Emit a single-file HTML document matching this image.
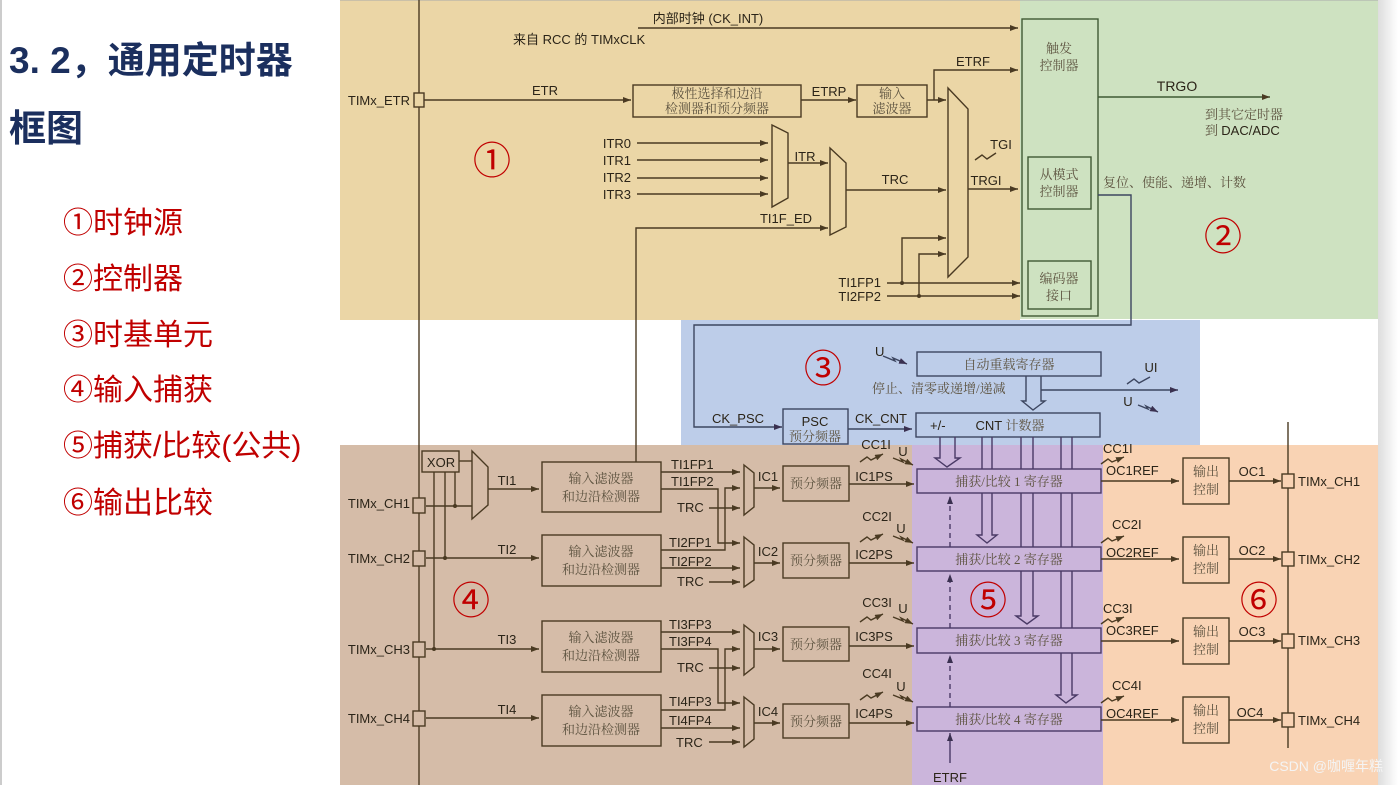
<!DOCTYPE html>
<html><head><meta charset="utf-8"><style>
html,body{margin:0;padding:0;background:#fff;}
body{width:1398px;height:785px;overflow:hidden;position:relative;font-family:"Liberation Sans","Noto Sans CJK SC",sans-serif;}
.t{position:absolute;color:#1b2f5e;font-weight:bold;font-size:37px;font-family:"Liberation Sans","Noto Sans CJK SC",sans-serif;left:9px;white-space:pre;}
.l{position:absolute;color:#c00000;font-size:30px;left:63px;font-family:"Liberation Sans","Noto Sans CJK SC",sans-serif;white-space:pre;}
svg{position:absolute;left:0;top:0;}
svg text{font-family:"Liberation Sans","Noto Sans CJK SC",sans-serif;font-size:13px;fill:#2b2418;}
svg .c{font-family:"Liberation Serif","Noto Serif CJK SC",serif;fill:#5d5340;}
svg .n{font-family:"Noto Sans CJK SC",sans-serif;font-size:38px;fill:#c00000;}
</style></head><body>
<div style="position:absolute;left:0;top:0;width:2px;height:785px;background:#ccc"></div>
<div class="t" style="top:30px">3. 2，通用定时器</div>
<div class="t" style="top:98px">框图</div>
<div class="l" style="top:198px">①时钟源</div>
<div class="l" style="top:254px">②控制器</div>
<div class="l" style="top:310px">③时基单元</div>
<div class="l" style="top:365px">④输入捕获</div>
<div class="l" style="top:421px">⑤捕获/比较(公共)</div>
<div class="l" style="top:478px">⑥输出比较</div>
<svg width="1398" height="785" viewBox="0 0 1398 785">
<defs>
<marker id="a" markerWidth="8" markerHeight="6" refX="8" refY="3" orient="auto" markerUnits="userSpaceOnUse"><path d="M0,0 L8,3 L0,6z" fill="#4a3a22"/></marker>
<marker id="b" markerWidth="8" markerHeight="6" refX="8" refY="3" orient="auto" markerUnits="userSpaceOnUse"><path d="M0,0 L8,3 L0,6z" fill="#3a3050"/></marker>
<linearGradient id="sh" x1="0" x2="1"><stop offset="0" stop-color="#ddd"/><stop offset="1" stop-color="#fff"/></linearGradient>
</defs>
<rect x="1378" y="0" width="20" height="785" fill="url(#sh)"/>
<rect x="340" y="0" width="680" height="320" fill="#ebd6a6"/>
<rect x="1020" y="0" width="358" height="319" fill="#cee2c1"/>
<rect x="681" y="320" width="519" height="125" fill="#bdcde9"/>
<rect x="340" y="445" width="572" height="340" fill="#d5bca8"/>
<rect x="912" y="445" width="191" height="340" fill="#cbb5db"/>
<rect x="1103" y="445" width="275" height="340" fill="#f9d3b4"/>
<line x1="340" y1="0" x2="1378" y2="0" stroke="#aaa" stroke-width="1"/>
<g stroke="#4a3a22" stroke-width="1.4" fill="none">
<line x1="419" y1="0" x2="419" y2="785"/>
<line x1="638" y1="28" x2="1018" y2="28" marker-end="url(#a)"/>
<rect x="414" y="93" width="10" height="14" fill="#ebd6a6"/>
<line x1="424" y1="100" x2="631" y2="100" marker-end="url(#a)"/>
<rect x="633" y="85" width="168" height="32"/>
<line x1="801" y1="100" x2="856" y2="100" marker-end="url(#a)"/>
<rect x="857" y="85" width="70" height="32"/>
<line x1="927" y1="100" x2="946" y2="100" marker-end="url(#a)"/>
<polyline points="934,100 934,70 1018,70" marker-end="url(#a)"/>
<path d="M948,88 L968,109 L968,257 L948,277 Z" fill="#ebd6a6"/>
<line x1="637" y1="143" x2="768" y2="143" marker-end="url(#a)"/>
<line x1="637" y1="160" x2="768" y2="160" marker-end="url(#a)"/>
<line x1="637" y1="178" x2="768" y2="178" marker-end="url(#a)"/>
<line x1="637" y1="194" x2="768" y2="194" marker-end="url(#a)"/>
<path d="M772,125 L788,133 L788,198 L772,207 Z"/>
<line x1="788" y1="163" x2="828" y2="163" marker-end="url(#a)"/>
<path d="M830,148 L846,163 L846,227 L830,235 Z"/>
<line x1="846" y1="190" x2="946" y2="190" marker-end="url(#a)"/>
<polyline points="636,462 636,228 828,228" marker-end="url(#a)"/>
<line x1="968" y1="189" x2="1018" y2="189" marker-end="url(#a)"/>
<polyline points="975,160 982,155 987,159 996,153"/>
<line x1="887" y1="283" x2="1020" y2="283" marker-end="url(#a)"/>
<line x1="887" y1="296" x2="1020" y2="296" marker-end="url(#a)"/>
<polyline points="902,283 902,238 946,238" marker-end="url(#a)"/>
<polyline points="919,296 919,254 946,254" marker-end="url(#a)"/>
</g>
<circle cx="902" cy="283" r="2" fill="#4a3a22"/><circle cx="919" cy="296" r="2" fill="#4a3a22"/>
<g stroke="#3f5a34" stroke-width="1.4" fill="none">
<rect x="1022" y="19" width="76" height="297"/>
<rect x="1028" y="157" width="63" height="52"/>
<rect x="1028" y="261" width="63" height="48"/>
<line x1="1098" y1="97" x2="1270" y2="97" marker-end="url(#a)"/>
<polyline points="1098,195 1131,195 1131,325 694,325 694,427 782,427" stroke="#3d4660" marker-end="url(#b)"/>
</g>
<text x="1059" y="53" text-anchor="middle" class="c">触发</text>
<text x="1059" y="70" text-anchor="middle" class="c">控制器</text>
<text x="1059" y="179" text-anchor="middle" class="c">从模式</text>
<text x="1059" y="196" text-anchor="middle" class="c">控制器</text>
<text x="1059" y="283" text-anchor="middle" class="c">编码器</text>
<text x="1059" y="300" text-anchor="middle" class="c">接口</text>
<text x="1177" y="91" text-anchor="middle" style="font-size:14px">TRGO</text>
<text x="1205" y="119" class="c">到其它定时器</text>
<text x="1205" y="135" class="c">到 <tspan style="font-family:'Liberation Sans';fill:#2b2418">DAC/ADC</tspan></text>
<text x="1103" y="187" class="c">复位、使能、递增、计数</text>
<text x="1223" y="250" text-anchor="middle" class="n">②</text>
<text x="708" y="23" text-anchor="middle">内部时钟 (CK_INT)</text>
<text x="513" y="44">来自 RCC 的 TIMxCLK</text>
<text x="410" y="105" text-anchor="end">TIMx_ETR</text>
<text x="545" y="95" text-anchor="middle">ETR</text>
<text x="717" y="98" text-anchor="middle" class="c">极性选择和边沿</text>
<text x="717" y="113" text-anchor="middle" class="c">检测器和预分频器</text>
<text x="829" y="96" text-anchor="middle">ETRP</text>
<text x="892" y="98" text-anchor="middle" class="c">输入</text>
<text x="892" y="113" text-anchor="middle" class="c">滤波器</text>
<text x="973" y="66" text-anchor="middle">ETRF</text>
<text x="631" y="148" text-anchor="end">ITR0</text>
<text x="631" y="165" text-anchor="end">ITR1</text>
<text x="631" y="182" text-anchor="end">ITR2</text>
<text x="631" y="199" text-anchor="end">ITR3</text>
<text x="805" y="161" text-anchor="middle">ITR</text>
<text x="895" y="184" text-anchor="middle">TRC</text>
<text x="786" y="223" text-anchor="middle">TI1F_ED</text>
<text x="1001" y="149" text-anchor="middle">TGI</text>
<text x="986" y="185" text-anchor="middle">TRGI</text>
<text x="881" y="287" text-anchor="end">TI1FP1</text>
<text x="881" y="301" text-anchor="end">TI2FP2</text>
<text x="492" y="174" text-anchor="middle" class="n">①</text>
<g stroke="#3d4660" stroke-width="1.4" fill="none">
<rect x="783" y="409" width="65" height="35"/>
<line x1="848" y1="429" x2="912" y2="429" marker-end="url(#b)"/>
<rect x="917" y="352" width="184" height="24"/>
<rect x="916" y="413" width="184" height="24"/>
<path d="M1026,376 V401 H1022 L1033,410 L1045,401 H1041 V376"/>
<line x1="1041" y1="390" x2="1178" y2="390" marker-end="url(#b)"/>
<polyline points="883,356 895,361 893,358 907,364" marker-end="url(#b)"/>
<polyline points="1127,384 1134,379 1139,383 1150,377"/>
<polyline points="1138,405 1148,409 1146,406 1158,412" marker-end="url(#b)"/>
</g>
<text x="823" y="382" text-anchor="middle" class="n">③</text>
<text x="875" y="356">U</text>
<text x="1009" y="369" text-anchor="middle" class="c">自动重载寄存器</text>
<text x="872" y="393" class="c">停止、清零或递增/递减</text>
<text x="1151" y="372" text-anchor="middle">UI</text>
<text x="1128" y="406" text-anchor="middle">U</text>
<text x="738" y="423" text-anchor="middle">CK_PSC</text>
<text x="815" y="426" text-anchor="middle">PSC</text>
<text x="815" y="441" text-anchor="middle" class="c">预分频器</text>
<text x="881" y="423" text-anchor="middle">CK_CNT</text>
<text x="930" y="430">+/-</text>
<text x="1010" y="430" text-anchor="middle">CNT <tspan class="c">计数器</tspan></text>
<g stroke="#4a3a66" stroke-width="1.4" fill="none">
<path d="M940,437 V458 H935 L947,467 L960,458 H955 V437"/>
<path d="M982,437 V535 H977 L987,543 L997,535 H992 V437"/>
<path d="M1021,437 V616 H1016 L1027,624 L1038,616 H1033 V437"/>
<path d="M1061,437 V695 H1056 L1066,703 L1077,695 H1072 V437"/>
<rect x="917" y="469" width="184" height="24" fill="#cbb5db"/>
<rect x="917" y="547" width="184" height="24" fill="#cbb5db"/>
<rect x="917" y="628" width="184" height="25" fill="#cbb5db"/>
<rect x="917" y="707" width="184" height="24" fill="#cbb5db"/>
<line x1="950" y1="707" x2="950" y2="655" stroke-dasharray="5,4" marker-end="url(#b)"/>
<line x1="950" y1="628" x2="950" y2="574" stroke-dasharray="5,4" marker-end="url(#b)"/>
<line x1="950" y1="547" x2="950" y2="496" stroke-dasharray="5,4" marker-end="url(#b)"/>
<line x1="950" y1="763" x2="950" y2="733" marker-end="url(#b)"/>
</g>
<text x="1009" y="486" text-anchor="middle" class="c">捕获/比较 1 寄存器</text>
<text x="1009" y="564" text-anchor="middle" class="c">捕获/比较 2 寄存器</text>
<text x="1009" y="645" text-anchor="middle" class="c">捕获/比较 3 寄存器</text>
<text x="1009" y="724" text-anchor="middle" class="c">捕获/比较 4 寄存器</text>
<text x="950" y="782" text-anchor="middle">ETRF</text>
<text x="988" y="614" text-anchor="middle" class="n">⑤</text>
<g stroke="#4a3a22" stroke-width="1.4" fill="none">
<line x1="1288" y1="422" x2="1288" y2="748"/>
<line x1="1101" y1="481" x2="1179" y2="481" marker-end="url(#a)"/>
<line x1="1101" y1="559" x2="1179" y2="559" marker-end="url(#a)"/>
<line x1="1101" y1="641" x2="1179" y2="641" marker-end="url(#a)"/>
<line x1="1101" y1="720" x2="1179" y2="720" marker-end="url(#a)"/>
<rect x="1183" y="458" width="46" height="46"/>
<rect x="1183" y="537" width="46" height="46"/>
<rect x="1183" y="618" width="46" height="46"/>
<rect x="1183" y="697" width="46" height="46"/>
<line x1="1229" y1="481" x2="1281" y2="481" marker-end="url(#a)"/>
<line x1="1229" y1="559" x2="1281" y2="559" marker-end="url(#a)"/>
<line x1="1229" y1="641" x2="1281" y2="641" marker-end="url(#a)"/>
<line x1="1229" y1="720" x2="1281" y2="720" marker-end="url(#a)"/>
<rect x="1282" y="474" width="12" height="14" fill="#f9d3b4"/>
<rect x="1282" y="552" width="12" height="14" fill="#f9d3b4"/>
<rect x="1282" y="634" width="12" height="14" fill="#f9d3b4"/>
<rect x="1282" y="713" width="12" height="14" fill="#f9d3b4"/>
<polyline points="1101,464 1108,459 1112,462 1124,457" marker-end="url(#a)"/>
<polyline points="1101,543 1108,538 1112,541 1124,536" marker-end="url(#a)"/>
<polyline points="1101,624 1108,619 1112,622 1124,617" marker-end="url(#a)"/>
<polyline points="1101,703 1108,698 1112,701 1124,696" marker-end="url(#a)"/>
</g>
<text x="1103" y="453">CC1I</text><text x="1106" y="475">OC1REF</text>
<text x="1112" y="529">CC2I</text><text x="1106" y="557">OC2REF</text>
<text x="1103" y="613">CC3I</text><text x="1106" y="635">OC3REF</text>
<text x="1112" y="690">CC4I</text><text x="1106" y="718">OC4REF</text>
<text x="1206" y="476" text-anchor="middle" class="c">输出</text><text x="1206" y="494" text-anchor="middle" class="c">控制</text>
<text x="1206" y="555" text-anchor="middle" class="c">输出</text><text x="1206" y="573" text-anchor="middle" class="c">控制</text>
<text x="1206" y="636" text-anchor="middle" class="c">输出</text><text x="1206" y="654" text-anchor="middle" class="c">控制</text>
<text x="1206" y="715" text-anchor="middle" class="c">输出</text><text x="1206" y="733" text-anchor="middle" class="c">控制</text>
<text x="1252" y="476" text-anchor="middle">OC1</text>
<text x="1252" y="555" text-anchor="middle">OC2</text>
<text x="1252" y="636" text-anchor="middle">OC3</text>
<text x="1250" y="717" text-anchor="middle">OC4</text>
<text x="1298" y="486">TIMx_CH1</text>
<text x="1298" y="564">TIMx_CH2</text>
<text x="1298" y="645">TIMx_CH3</text>
<text x="1298" y="725">TIMx_CH4</text>
<text x="1259" y="614" text-anchor="middle" class="n">⑥</text>
<text x="1383" y="771" text-anchor="end" style="fill:#f4f4f4;font-size:14px">CSDN @咖喱年糕</text>
<g stroke="#4a3a22" stroke-width="1.4" fill="none">
<rect x="422" y="451" width="37" height="21"/>
<path d="M472,451 L488,467 L488,505 L472,519 Z"/>
<line x1="488" y1="489" x2="539" y2="489" marker-end="url(#a)"/>
<line x1="459" y1="461" x2="472" y2="461"/>
<line x1="434" y1="472" x2="434" y2="649"/>
<line x1="445" y1="472" x2="445" y2="558"/>
<line x1="455" y1="472" x2="455" y2="506"/>
<line x1="426" y1="506" x2="472" y2="506"/>
<line x1="426" y1="558" x2="539" y2="558" marker-end="url(#a)"/>
<line x1="426" y1="649" x2="539" y2="649" marker-end="url(#a)"/>
<line x1="426" y1="718" x2="539" y2="718" marker-end="url(#a)"/>
<rect x="413" y="498" width="12" height="15" fill="#d5bca8"/>
<rect x="413" y="551" width="12" height="15" fill="#d5bca8"/>
<rect x="413" y="642" width="12" height="15" fill="#d5bca8"/>
<rect x="413" y="711" width="12" height="15" fill="#d5bca8"/>
<rect x="542" y="462" width="119" height="50"/>
<rect x="542" y="535" width="119" height="51"/>
<rect x="542" y="621" width="119" height="51"/>
<rect x="542" y="695" width="119" height="51"/>
<line x1="661" y1="472" x2="740" y2="472" marker-end="url(#a)"/>
<polyline points="661,489 718,489 718,543 740,543" marker-end="url(#a)"/>
<line x1="709" y1="508" x2="740" y2="508" marker-end="url(#a)"/>
<polyline points="661,550 725,550 725,488 740,488" marker-end="url(#a)"/>
<line x1="661" y1="568" x2="740" y2="568" marker-end="url(#a)"/>
<line x1="709" y1="582" x2="740" y2="582" marker-end="url(#a)"/>
<line x1="661" y1="632" x2="740" y2="632" marker-end="url(#a)"/>
<polyline points="661,649 718,649 718,703 740,703" marker-end="url(#a)"/>
<line x1="709" y1="668" x2="740" y2="668" marker-end="url(#a)"/>
<polyline points="661,710 725,710 725,649 740,649" marker-end="url(#a)"/>
<line x1="661" y1="728" x2="740" y2="728" marker-end="url(#a)"/>
<line x1="709" y1="742" x2="740" y2="742" marker-end="url(#a)"/>
<path d="M744,465 L754,473 L754,507 L744,515 Z"/>
<path d="M744,537 L754,545 L754,580 L744,587 Z"/>
<path d="M744,625 L754,633 L754,667 L744,675 Z"/>
<path d="M744,697 L754,705 L754,739 L744,747 Z"/>
<line x1="754" y1="488" x2="780" y2="488" marker-end="url(#a)"/>
<line x1="754" y1="563" x2="780" y2="563" marker-end="url(#a)"/>
<line x1="754" y1="649" x2="780" y2="649" marker-end="url(#a)"/>
<line x1="754" y1="723" x2="780" y2="723" marker-end="url(#a)"/>
<rect x="783" y="466" width="66" height="35"/>
<rect x="783" y="543" width="66" height="35"/>
<rect x="783" y="627" width="66" height="34"/>
<rect x="783" y="704" width="66" height="34"/>
<line x1="849" y1="484" x2="914" y2="484" marker-end="url(#a)"/>
<line x1="849" y1="563" x2="914" y2="563" marker-end="url(#a)"/>
<line x1="849" y1="646" x2="914" y2="646" marker-end="url(#a)"/>
<line x1="849" y1="723" x2="914" y2="723" marker-end="url(#a)"/>
<polyline points="860,462 867,457 871,460 883,454" marker-end="url(#a)"/>
<polyline points="860,542 867,537 871,540 883,534" marker-end="url(#a)"/>
<polyline points="860,622 867,617 871,620 883,614" marker-end="url(#a)"/>
<polyline points="860,700 867,695 871,698 883,692" marker-end="url(#a)"/>
<polyline points="893,458 903,462 901,459 913,465" marker-end="url(#a)"/>
<polyline points="893,536 903,540 901,537 913,543" marker-end="url(#a)"/>
<polyline points="893,617 903,621 901,618 913,624" marker-end="url(#a)"/>
<polyline points="893,695 903,699 901,696 913,702" marker-end="url(#a)"/>
</g>
<g fill="#4a3a22"><circle cx="455" cy="506" r="2"/><circle cx="445" cy="558" r="2"/><circle cx="434" cy="649" r="2"/></g>
<text x="441" y="467" text-anchor="middle">XOR</text>
<text x="410" y="508" text-anchor="end">TIMx_CH1</text>
<text x="410" y="563" text-anchor="end">TIMx_CH2</text>
<text x="410" y="654" text-anchor="end">TIMx_CH3</text>
<text x="410" y="723" text-anchor="end">TIMx_CH4</text>
<text x="507" y="485" text-anchor="middle">TI1</text>
<text x="507" y="554" text-anchor="middle">TI2</text>
<text x="507" y="644" text-anchor="middle">TI3</text>
<text x="507" y="714" text-anchor="middle">TI4</text>
<text x="601" y="483" text-anchor="middle" class="c">输入滤波器</text><text x="601" y="501" text-anchor="middle" class="c">和边沿检测器</text>
<text x="601" y="556" text-anchor="middle" class="c">输入滤波器</text><text x="601" y="574" text-anchor="middle" class="c">和边沿检测器</text>
<text x="601" y="642" text-anchor="middle" class="c">输入滤波器</text><text x="601" y="660" text-anchor="middle" class="c">和边沿检测器</text>
<text x="601" y="716" text-anchor="middle" class="c">输入滤波器</text><text x="601" y="734" text-anchor="middle" class="c">和边沿检测器</text>
<text x="671" y="469">TI1FP1</text><text x="671" y="486">TI1FP2</text><text x="677" y="512">TRC</text>
<text x="669" y="547">TI2FP1</text><text x="669" y="566">TI2FP2</text><text x="677" y="586">TRC</text>
<text x="669" y="629">TI3FP3</text><text x="669" y="646">TI3FP4</text><text x="677" y="672">TRC</text>
<text x="669" y="706">TI4FP3</text><text x="669" y="725">TI4FP4</text><text x="676" y="747">TRC</text>
<text x="768" y="481" text-anchor="middle">IC1</text>
<text x="768" y="556" text-anchor="middle">IC2</text>
<text x="768" y="641" text-anchor="middle">IC3</text>
<text x="768" y="716" text-anchor="middle">IC4</text>
<text x="816" y="488" text-anchor="middle" class="c">预分频器</text>
<text x="816" y="565" text-anchor="middle" class="c">预分频器</text>
<text x="816" y="649" text-anchor="middle" class="c">预分频器</text>
<text x="816" y="726" text-anchor="middle" class="c">预分频器</text>
<text x="874" y="481" text-anchor="middle">IC1PS</text>
<text x="874" y="559" text-anchor="middle">IC2PS</text>
<text x="874" y="641" text-anchor="middle">IC3PS</text>
<text x="874" y="718" text-anchor="middle">IC4PS</text>
<text x="876" y="449" text-anchor="middle">CC1I</text><text x="903" y="456" text-anchor="middle">U</text>
<text x="877" y="521" text-anchor="middle">CC2I</text><text x="901" y="533" text-anchor="middle">U</text>
<text x="877" y="607" text-anchor="middle">CC3I</text><text x="903" y="613" text-anchor="middle">U</text>
<text x="877" y="678" text-anchor="middle">CC4I</text><text x="901" y="691" text-anchor="middle">U</text>
<text x="471" y="614" text-anchor="middle" class="n">④</text>
</svg>
</body></html>
